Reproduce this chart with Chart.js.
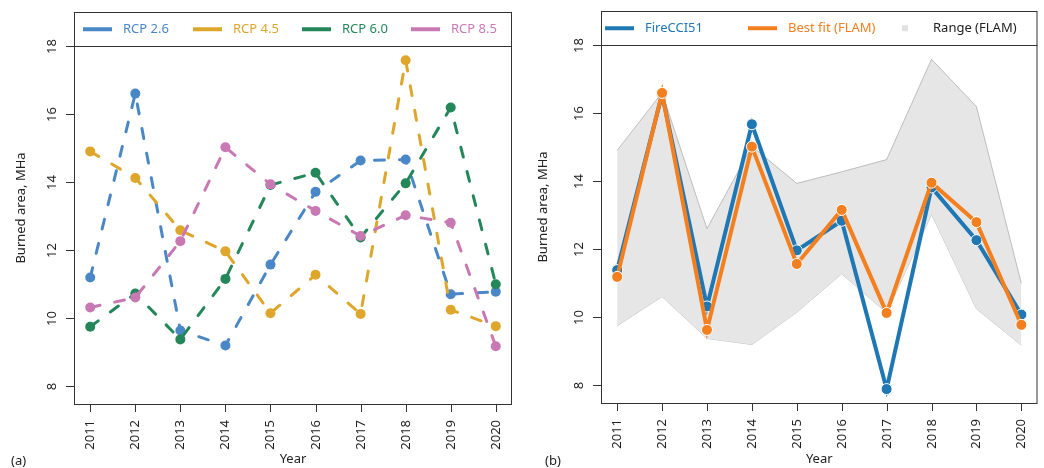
<!DOCTYPE html>
<html>
<head>
<meta charset="utf-8">
<script src="https://cdn.jsdelivr.net/npm/chart.js@4/dist/chart.umd.min.js"></script>
<style>
  html, body { margin: 0; padding: 0; background: #fff; }
  .panel { position: absolute; top: 0; width: 522px; height: 468px; }
  #left { left: 0; }
  #right { left: 522px; }
</style>
</head>
<body>
<div class="panel" id="left"><canvas id="chartA"></canvas></div>
<div class="panel" id="right"><canvas id="chartB"></canvas></div>
<script>
// data
const years = [2011, 2012, 2013, 2014, 2015, 2016, 2017, 2018, 2019, 2020];
const yTicks = [8, 10, 12, 14, 16, 18];

const rcp26 = [11.19, 16.6, 9.63, 9.19, 11.57, 13.71, 14.63, 14.66, 10.7, 10.77];
const rcp45 = [14.9, 14.12, 12.58, 11.96, 10.14, 11.27, 10.12, 17.58, 10.24, 9.76];
const rcp60 = [9.74, 10.72, 9.37, 11.15, 13.91, 14.27, 12.37, 13.96, 16.19, 10.99];
const rcp85 = [10.31, 10.6, 12.26, 15.02, 13.93, 13.15, 12.41, 13.02, 12.8, 9.17];

const fireCCI = [11.38, 16.55, 10.31, 15.67, 11.96, 12.83, 7.88, 13.81, 12.26, 10.07];
const bestFit = [11.18, 16.59, 9.62, 15.01, 11.56, 13.15, 10.12, 13.95, 12.79, 9.77];
const rangeMax = [14.9, 16.6, 12.6, 15.02, 13.93, 14.27, 14.63, 17.58, 16.19, 10.99];
const rangeMin = [9.74, 10.6, 9.37, 9.19, 10.14, 11.27, 10.12, 13.02, 10.24, 9.17];

const FONT = '"Noto Sans", sans-serif';
const INK = '#222';

const pts = vals => years.map((y, i) => ({ x: y, y: vals[i] }));

function frame(opts) {
    return {
        id: 'frame',
        afterDraw(chart) {
            const ctx = chart.ctx;
            const a = chart.chartArea;
            const xs = chart.scales.x, ys = chart.scales.y;
            ctx.save();
            ctx.strokeStyle = '#333';
            ctx.lineWidth = 1;
            ctx.strokeRect(a.left + 0.5, a.top + 0.5, a.right - a.left - 1, a.bottom - a.top);

            // legend box bottom edge
            const ly = Math.round(ys.getPixelForValue(18)) + 0.5;
            ctx.beginPath();
            ctx.moveTo(a.left, ly);
            ctx.lineTo(a.right, ly);
            ctx.stroke();

            ctx.font = '13px ' + FONT;
            ctx.fillStyle = INK;

            // y ticks
            yTicks.forEach(v => {
                const py = Math.round(ys.getPixelForValue(v)) + 0.5;
                ctx.beginPath();
                ctx.moveTo(a.left, py);
                ctx.lineTo(a.left - 8, py);
                ctx.stroke();
                ctx.save();
                ctx.translate(a.left - 22, py);
                ctx.rotate(-Math.PI / 2);
                ctx.textAlign = 'center';
                ctx.textBaseline = 'middle';
                ctx.fillText(String(v), 0, 0);
                ctx.restore();
            });

            // x ticks
            years.forEach(yr => {
                const px = Math.round(xs.getPixelForValue(yr)) + 0.5;
                ctx.beginPath();
                ctx.moveTo(px, a.bottom);
                ctx.lineTo(px, a.bottom + 8);
                ctx.stroke();
                ctx.save();
                ctx.translate(px, a.bottom + 16);
                ctx.rotate(-Math.PI / 2);
                ctx.textAlign = 'right';
                ctx.textBaseline = 'middle';
                ctx.fillText(String(yr), 0, 0);
                ctx.restore();
            });

            // axis titles
            ctx.save();
            ctx.translate(21, (a.top + a.bottom) / 2);
            ctx.rotate(-Math.PI / 2);
            ctx.textAlign = 'center';
            ctx.textBaseline = 'middle';
            ctx.fillText('Burned area, MHa', 0, 0);
            ctx.restore();

            ctx.textAlign = 'center';
            ctx.textBaseline = 'middle';
            ctx.fillText('Year', (a.left + a.right) / 2, 459);
            ctx.textAlign = 'left';
            ctx.fillText(opts.tag, opts.tagX, 461);

            // legend
            const midY = (a.top + ly) / 2;
            opts.legend.forEach(item => {
                if (item.square) {
                    ctx.fillStyle = '#e2e2e2';
                    ctx.fillRect(item.x - 3, midY - 3, 6, 6);
                    ctx.fillStyle = INK;
                    ctx.textAlign = 'left';
                    ctx.fillText(item.label, item.x + 28, midY);
                    return;
                }
                ctx.strokeStyle = item.color;
                ctx.lineWidth = 4;
                ctx.beginPath();
                ctx.moveTo(item.x, midY);
                ctx.lineTo(item.x + 29, midY);
                ctx.stroke();
                ctx.fillStyle = item.color;
                ctx.textAlign = 'left';
                ctx.fillText(item.label, item.x + 40, midY);
            });
            ctx.restore();
        }
    };
}

function baseOptions(padding) {
    return {
        responsive: false,
        animation: false,
        layout: { padding },
        plugins: { legend: { display: false }, tooltip: { enabled: false } },
        scales: {
            x: { type: 'linear', display: false, min: 2010.64, max: 2020.36 },
            y: { type: 'linear', display: false, min: 7.47, max: 19.0 }
        }
    };
}

function rcpSet(label, vals, color, order) {
    return {
        label, data: pts(vals), order,
        borderColor: color, backgroundColor: color,
        borderWidth: 3, borderDash: [10, 15], borderCapStyle: 'round',
        pointRadius: 5, pointBorderWidth: 0,
        fill: false, tension: 0
    };
}

const colA = { r26: '#4a87c7', r45: '#dea62b', r60: '#24875a', r85: '#c878b3' };

const cA = document.getElementById('chartA');
cA.width = 522; cA.height = 468;
new Chart(cA, {
    type: 'line',
    data: {
        datasets: [
            rcpSet('RCP 2.6', rcp26, colA.r26, 3),
            rcpSet('RCP 4.5', rcp45, colA.r45, 2),
            rcpSet('RCP 6.0', rcp60, colA.r60, 1),
            rcpSet('RCP 8.5', rcp85, colA.r85, 0)
        ]
    },
    options: baseOptions({ left: 74, right: 10, top: 12, bottom: 64 }),
    plugins: [frame({
        tag: '(a)', tagX: 11,
        legend: [
            { label: 'RCP 2.6', color: colA.r26, x: 83 },
            { label: 'RCP 4.5', color: colA.r45, x: 193 },
            { label: 'RCP 6.0', color: colA.r60, x: 302 },
            { label: 'RCP 8.5', color: colA.r85, x: 411 }
        ]
    })]
});

const colB = { fire: '#1f77b4', fit: '#f47f1f' };

const cB = document.getElementById('chartB');
cB.width = 522; cB.height = 468;
new Chart(cB, {
    type: 'line',
    data: {
        datasets: [
            {
                label: 'Best fit (FLAM)', data: pts(bestFit), order: 0,
                borderColor: colB.fit, backgroundColor: colB.fit,
                borderWidth: 4, pointRadius: 5.5, pointBorderColor: '#fff', pointBorderWidth: 1,
                fill: false, tension: 0
            },
            {
                label: 'FireCCI51', data: pts(fireCCI), order: 1,
                borderColor: colB.fire, backgroundColor: colB.fire,
                borderWidth: 4, pointRadius: 5.5, pointBorderColor: '#fff', pointBorderWidth: 1,
                fill: false, tension: 0
            },
            {
                label: 'Range (FLAM)', data: pts(rangeMax), order: 2,
                borderColor: '#9a9a9a', borderWidth: 0.6, backgroundColor: '#e6e6e6',
                pointRadius: 0, fill: '+1', tension: 0
            },
            {
                label: 'Range min', data: pts(rangeMin), order: 3,
                borderColor: '#9a9a9a', borderWidth: 0.6, backgroundColor: '#e6e6e6',
                pointRadius: 0, fill: false, tension: 0
            }
        ]
    },
    options: baseOptions({ left: 79, right: 6, top: 11, bottom: 65 }),
    plugins: [frame({
        tag: '(b)', tagX: 23,
        legend: [
            { label: 'FireCCI51', color: colB.fire, x: 83 },
            { label: 'Best fit (FLAM)', color: colB.fit, x: 226 },
            { label: 'Range (FLAM)', square: true, x: 383 }
        ]
    })]
});
</script>
</body>
</html>
